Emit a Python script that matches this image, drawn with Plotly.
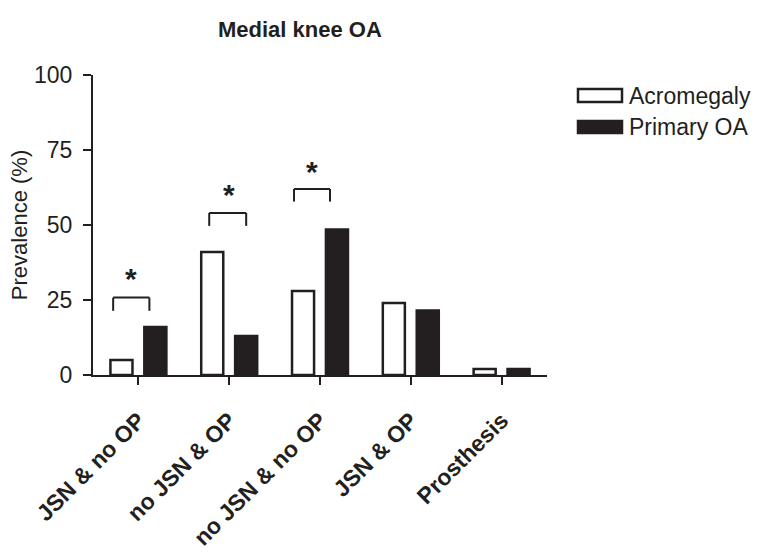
import plotly.graph_objects as go

categories = ["JSN & no OP", "no JSN & OP", "no JSN & no OP", "JSN & OP", "Prosthesis"]
acromegaly = [5, 41, 28, 24, 2]
primary_oa = [16, 13, 48.5, 21.5, 2]
series_names = ["Acromegaly", "Primary OA"]
y_ticks = [0, 25, 50, 75, 100]

# significance brackets: (left index, right index, top value, leg bottom value)
brackets = [(-0.278, 0.121, 25.8, 21.4), (0.78, 1.187, 54.0, 49.7), (1.714, 2.11, 62.0, 57.8)]
stars = [(-0.08, 32.3), (1.0, 60.3), (1.91, 68.0)]

DARK = "#231f20"
FONT = "Liberation Sans, Arial, sans-serif"

fig = go.Figure()
fig.add_trace(go.Bar(x=categories, y=acromegaly, name=series_names[0],
                     marker=dict(color="white", line=dict(color=DARK, width=2.5)),
                     showlegend=False))
fig.add_trace(go.Bar(x=categories, y=primary_oa, name=series_names[1],
                     marker=dict(color=DARK, line=dict(color=DARK, width=2.5)),
                     showlegend=False))

shapes = []
for x0, x1, yt, yb in brackets:
    for (a, b, c, d) in [(x0, yb, x0, yt), (x0, yt, x1, yt), (x1, yt, x1, yb)]:
        shapes.append(dict(type="line", xref="x", yref="y", x0=a, y0=b, x1=c, y1=d,
                           line=dict(color=DARK, width=2)))

# custom legend (wide boxes)
pw, ph = 454.0, 300.0
def px_x(p):
    return (p - 93) / pw
def px_y(p):
    return (375 - p) / ph

shapes.append(dict(type="rect", xref="paper", yref="paper",
                   x0=px_x(578), x1=px_x(622), y0=px_y(102), y1=px_y(89),
                   fillcolor="white", line=dict(color=DARK, width=2.5)))
shapes.append(dict(type="rect", xref="paper", yref="paper",
                   x0=px_x(578), x1=px_x(622), y0=px_y(133), y1=px_y(121),
                   fillcolor=DARK, line=dict(color=DARK, width=2.5)))

annotations = []
for sx, sy in stars:
    annotations.append(dict(x=sx, y=sy, xref="x", yref="y", text="<b>*</b>", showarrow=False,
                            font=dict(family=FONT, size=30, color=DARK),
                            xanchor="center", yanchor="middle"))
annotations.append(dict(x=px_x(627), y=px_y(96), xref="paper", yref="paper", text=series_names[0],
                        showarrow=False, xanchor="left", yanchor="middle",
                        font=dict(family=FONT, size=23, color=DARK)))
annotations.append(dict(x=px_x(627), y=px_y(127), xref="paper", yref="paper", text=series_names[1],
                        showarrow=False, xanchor="left", yanchor="middle",
                        font=dict(family=FONT, size=23, color=DARK)))
annotations.append(dict(x=px_x(300), y=px_y(29), xref="paper", yref="paper",
                        text="<b>Medial knee OA</b>", showarrow=False,
                        xanchor="center", yanchor="middle",
                        font=dict(family=FONT, size=22, color=DARK)))

fig.update_layout(
    width=760, height=558,
    margin=dict(l=93, r=213, t=75, b=183, autoexpand=False),
    paper_bgcolor="white", plot_bgcolor="white",
    barmode="group", bargap=0.253, bargroupgap=0.35,
    font=dict(family=FONT, color=DARK),
    shapes=shapes, annotations=annotations,
    xaxis=dict(range=[-0.5, 4.5], showline=True, linewidth=2, linecolor=DARK,
               ticks="outside", ticklen=8, tickwidth=2, tickcolor=DARK,
               tickangle=-45, showgrid=False, zeroline=False, ticklabelstandoff=13,
               tickfont=dict(family=FONT, size=23, color=DARK, weight="bold")),
    yaxis=dict(range=[0, 100], tickvals=y_ticks, showline=True, linewidth=2, linecolor=DARK,
               ticks="outside", ticklen=8, tickwidth=2, tickcolor=DARK,
               showgrid=False, zeroline=False, ticklabelstandoff=6,
               tickfont=dict(family=FONT, size=23, color=DARK),
               title=dict(text="Prevalence (%)", standoff=0,
                          font=dict(family=FONT, size=22, color=DARK))),
)

fig.write_html("out.html", config={"displayModeBar": False},
               post_script="document.body.style.margin='0';")
